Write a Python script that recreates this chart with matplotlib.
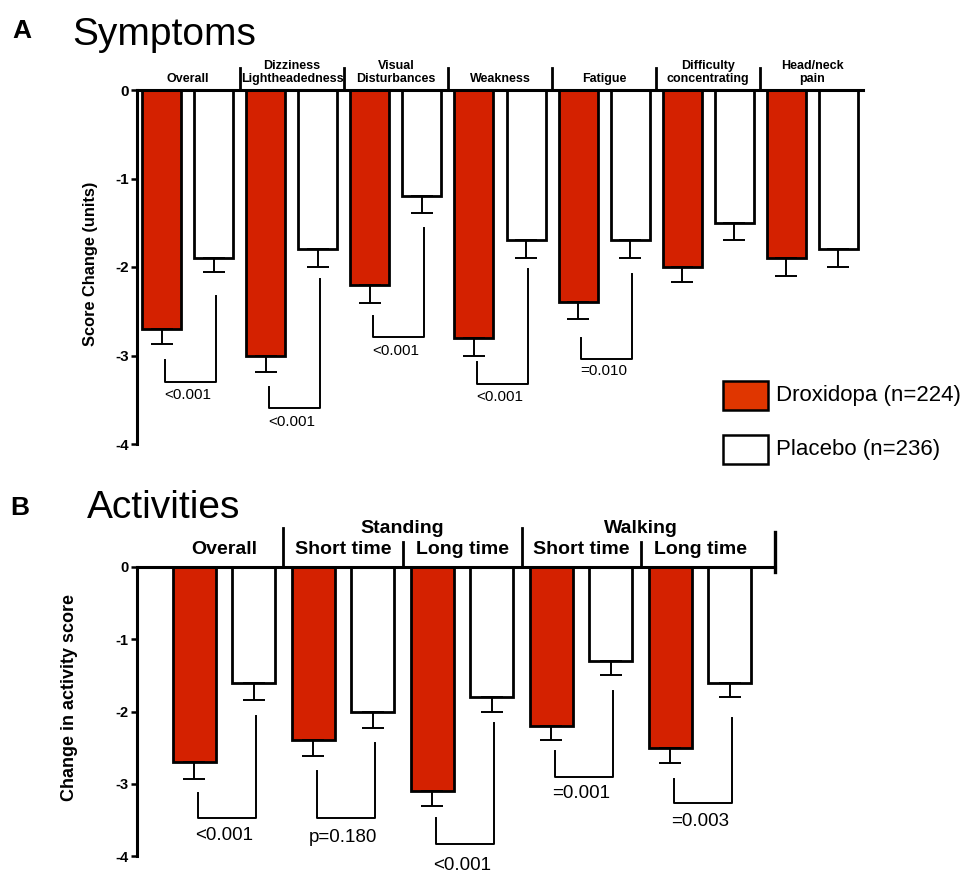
import matplotlib
matplotlib.use("Agg")
import matplotlib.pyplot as plt
from matplotlib.patches import Rectangle
import numpy as np

plt.rcParams['font.family'] = ['Liberation Sans', 'DejaVu Sans']
plt.rcParams['axes.unicode_minus'] = False

RED = '#d42100'
LEG_RED = '#e03600'

# ---------------- Data: Symptoms ----------------
sym_categories = ['Overall', 'Dizziness\nLightheadedness', 'Visual\nDisturbances',
                  'Weakness', 'Fatigue', 'Difficulty\nconcentrating', 'Head/neck\npain']
sym_drox = [-2.7, -3.0, -2.2, -2.8, -2.4, -2.0, -1.9]
sym_drox_err = [0.17, 0.19, 0.21, 0.21, 0.19, 0.17, 0.20]
sym_plac = [-1.9, -1.8, -1.2, -1.7, -1.7, -1.5, -1.8]
sym_plac_err = [0.16, 0.20, 0.19, 0.20, 0.20, 0.20, 0.20]
sym_p_labels = ['<0.001', '<0.001', '<0.001', '<0.001', '=0.010']
# bracket layout (annotation positions)
sym_br_left_top = [-3.05, -3.36, -2.55, -3.07, -2.80]
sym_br_bottom = [-3.30, -3.59, -2.79, -3.32, -3.04]
sym_br_right_top = [-2.33, -2.14, -1.56, -2.02, -2.08]
sym_p_y = [-3.45, -3.75, -2.95, -3.47, -3.18]

# ---------------- Data: Activities ----------------
act_categories = ['Overall', 'Short time', 'Long time', 'Short time', 'Long time']
act_supergroups = ['Standing', 'Walking']
act_drox = [-2.7, -2.4, -3.1, -2.2, -2.5]
act_drox_err = [0.24, 0.22, 0.21, 0.19, 0.21]
act_plac = [-1.6, -2.0, -1.8, -1.3, -1.6]
act_plac_err = [0.24, 0.23, 0.20, 0.20, 0.20]
act_p_labels = ['<0.001', 'p=0.180', '<0.001', '=0.001', '=0.003']
act_br_left_top = [-3.13, -2.83, -3.48, -2.55, -2.93]
act_br_bottom = [-3.48, -3.48, -3.84, -2.91, -3.27]
act_br_right_top = [-2.06, -2.44, -2.16, -1.72, -2.09]
act_p_y = [-3.71, -3.75, -4.13, -3.13, -3.52]

yticks = [0, -1, -2, -3, -4]
ytick_labels = ['0', '-1', '-2', '-3', '-4']

W, H = 971, 875
fig = plt.figure(figsize=(W / 100, H / 100), dpi=100)


def fx(px):
    return px / W


def fy(py):
    return 1 - py / H


def draw_panel(ax, drox, drox_err, plac, plac_err, width, off, tick_fs, lt, bt, rt, py_, plabels, pfs):
    n = len(drox)
    x = np.arange(n)
    ax.bar(x - off, drox, width, color=RED, edgecolor='black', linewidth=2.0, zorder=2)
    ax.bar(x + off, plac, width, color='white', edgecolor='black', linewidth=2.0, zorder=2)
    ax.errorbar(x - off, drox, yerr=[drox_err, np.zeros(n)], fmt='none', ecolor='black',
                elinewidth=1.4, capsize=8, capthick=1.4, zorder=3)
    ax.errorbar(x + off, plac, yerr=[plac_err, np.zeros(n)], fmt='none', ecolor='black',
                elinewidth=1.4, capsize=8, capthick=1.4, zorder=3)
    for i in range(len(plabels)):
        xl = i - off + 0.03
        xr = i + off + 0.02
        ax.plot([xl, xl, xr, xr], [lt[i], bt[i], bt[i], rt[i]], color='black', lw=1.4,
                clip_on=False, zorder=3)
        ax.text(i, py_[i], plabels[i], ha='center', va='center', fontsize=pfs, clip_on=False)
    ax.set_ylim(-4, 0)
    ax.set_yticks(yticks)
    ax.set_yticklabels(ytick_labels, fontweight='bold', fontsize=tick_fs)
    ax.set_xticks([])
    for s in ['right', 'bottom']:
        ax.spines[s].set_visible(False)
    ax.spines['left'].set_linewidth(2.2)
    ax.spines['top'].set_linewidth(2.2)
    ax.tick_params(axis='y', length=4, width=1.8, pad=2)
    ax.set_facecolor('none')


# ---------------- Panel A ----------------
axA = fig.add_axes([fx(137), fy(444), fx(863) - fx(137), fy(90) - fy(444)])
axA.set_xlim(-0.49, 6.49)
draw_panel(axA, sym_drox, sym_drox_err, sym_plac, sym_plac_err, 0.375, 0.25, 11,
           sym_br_left_top, sym_br_bottom, sym_br_right_top, sym_p_y, sym_p_labels, 11)
axA.set_ylabel('Score Change (units)', fontweight='bold', fontsize=11.8)
axA.yaxis.set_label_coords(-0.054, 0.51)
trA = axA.get_xaxis_transform()
for i in range(1, len(sym_categories)):
    axA.plot([i - 0.5, i - 0.5], [1.0, 1.062], color='black', lw=2.0, transform=trA, clip_on=False)
for i, c in enumerate(sym_categories):
    axA.text(i, 1.014, c, ha='center', va='bottom', fontsize=9, fontweight='bold',
             transform=trA, linespacing=1.12)

fig.text(fx(12), fy(38), 'A', fontsize=19, fontweight='bold', va='baseline')
fig.text(fx(72), fy(45), 'Symptoms', fontsize=28, va='baseline')

# ---------------- Panel B ----------------
axB = fig.add_axes([fx(137), fy(856), fx(775) - fx(137), fy(567) - fy(856)])
axB.set_xlim(-0.731, 4.63)
draw_panel(axB, act_drox, act_drox_err, act_plac, act_plac_err, 0.36, 0.25, 10.5,
           act_br_left_top, act_br_bottom, act_br_right_top, act_p_y, act_p_labels, 13.5)
axB.set_ylabel('Change in activity score', fontweight='bold', fontsize=13)
axB.yaxis.set_label_coords(-0.093, 0.55)
trB = axB.get_xaxis_transform()
tall = [0.5, 2.5]
short = [1.5, 3.5]
for xv in tall:
    axB.plot([xv, xv], [1.0, 1.135], color='black', lw=2.0, transform=trB, clip_on=False)
for xv in short:
    axB.plot([xv, xv], [1.0, 1.087], color='black', lw=2.0, transform=trB, clip_on=False)
axB.plot([4.63, 4.63], [0.983, 1.121], color='black', lw=2.4, transform=trB, clip_on=False)
for i, c in enumerate(act_categories):
    axB.text(i, 1.045, c, ha='center', va='baseline', fontsize=14, fontweight='bold',
             transform=trB)
for j, s in enumerate(act_supergroups):
    axB.text(1.5 + 2 * j, 1.117, s, ha='center', va='baseline', fontsize=14, fontweight='bold',
             transform=trB)

fig.text(fx(10), fy(515), 'B', fontsize=19, fontweight='bold', va='baseline')
fig.text(fx(87), fy(518), 'Activities', fontsize=28, va='baseline')

# ---------------- Legend ----------------
legend_entries = [('Droxidopa (n=224)', LEG_RED), ('Placebo (n=236)', 'white')]
leg_y = [395, 449]
for (lab, col), yc in zip(legend_entries, leg_y):
    fig.add_artist(Rectangle((fx(723), fy(yc + 14.5)), fx(45), (29 / H), facecolor=col,
                             edgecolor='black', linewidth=1.8, transform=fig.transFigure))
    fig.text(fx(776), fy(yc), lab, fontsize=16, va='center', ha='left')

fig.savefig('out.png', dpi=100)
